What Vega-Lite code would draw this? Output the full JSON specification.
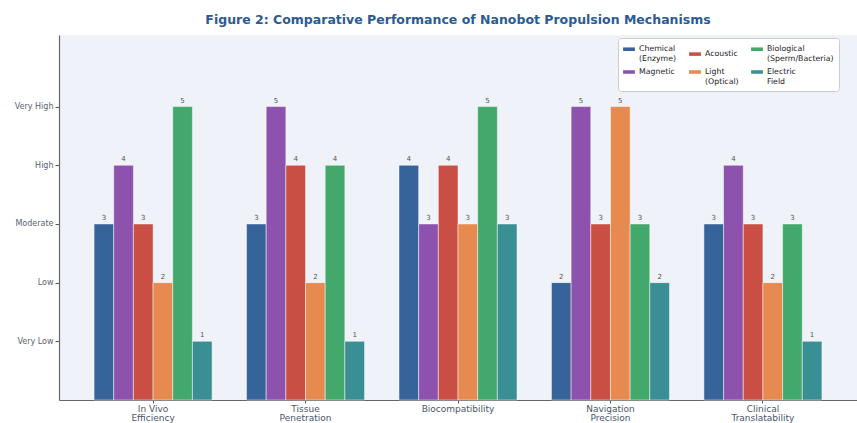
{
  "$schema": "https://vega.github.io/schema/vega-lite/v6.json",
  "width": 798,
  "height": 365,
  "autosize": {"type": "none"},
  "padding": {"left": 59, "top": 35, "right": 0, "bottom": 23},
  "background": "white",
  "title": {
    "text": "Figure 2: Comparative Performance of Nanobot Propulsion Mechanisms",
    "font": "DejaVu Sans",
    "fontSize": 12.5,
    "fontWeight": "bold",
    "color": "#2b5b93",
    "anchor": "middle",
    "offset": 9
  },
  "config": {
    "font": "DejaVu Sans",
    "view": {"fill": "#eff2f8", "stroke": null}
  },
  "data": {
    "values": [
      {"metric": "In Vivo Efficiency", "mechanism": "Chemical (Enzyme)", "score": 3},
      {"metric": "In Vivo Efficiency", "mechanism": "Magnetic", "score": 4},
      {"metric": "In Vivo Efficiency", "mechanism": "Acoustic", "score": 3},
      {"metric": "In Vivo Efficiency", "mechanism": "Light (Optical)", "score": 2},
      {"metric": "In Vivo Efficiency", "mechanism": "Biological (Sperm/Bacteria)", "score": 5},
      {"metric": "In Vivo Efficiency", "mechanism": "Electric Field", "score": 1},
      {"metric": "Tissue Penetration", "mechanism": "Chemical (Enzyme)", "score": 3},
      {"metric": "Tissue Penetration", "mechanism": "Magnetic", "score": 5},
      {"metric": "Tissue Penetration", "mechanism": "Acoustic", "score": 4},
      {"metric": "Tissue Penetration", "mechanism": "Light (Optical)", "score": 2},
      {"metric": "Tissue Penetration", "mechanism": "Biological (Sperm/Bacteria)", "score": 4},
      {"metric": "Tissue Penetration", "mechanism": "Electric Field", "score": 1},
      {"metric": "Biocompatibility", "mechanism": "Chemical (Enzyme)", "score": 4},
      {"metric": "Biocompatibility", "mechanism": "Magnetic", "score": 3},
      {"metric": "Biocompatibility", "mechanism": "Acoustic", "score": 4},
      {"metric": "Biocompatibility", "mechanism": "Light (Optical)", "score": 3},
      {"metric": "Biocompatibility", "mechanism": "Biological (Sperm/Bacteria)", "score": 5},
      {"metric": "Biocompatibility", "mechanism": "Electric Field", "score": 3},
      {"metric": "Navigation Precision", "mechanism": "Chemical (Enzyme)", "score": 2},
      {"metric": "Navigation Precision", "mechanism": "Magnetic", "score": 5},
      {"metric": "Navigation Precision", "mechanism": "Acoustic", "score": 3},
      {"metric": "Navigation Precision", "mechanism": "Light (Optical)", "score": 5},
      {"metric": "Navigation Precision", "mechanism": "Biological (Sperm/Bacteria)", "score": 3},
      {"metric": "Navigation Precision", "mechanism": "Electric Field", "score": 2},
      {"metric": "Clinical Translatability", "mechanism": "Chemical (Enzyme)", "score": 3},
      {"metric": "Clinical Translatability", "mechanism": "Magnetic", "score": 4},
      {"metric": "Clinical Translatability", "mechanism": "Acoustic", "score": 3},
      {"metric": "Clinical Translatability", "mechanism": "Light (Optical)", "score": 2},
      {"metric": "Clinical Translatability", "mechanism": "Biological (Sperm/Bacteria)", "score": 3},
      {"metric": "Clinical Translatability", "mechanism": "Electric Field", "score": 1}
    ]
  },
  "encoding": {
    "x": {
      "field": "metric",
      "type": "nominal",
      "sort": ["In Vivo Efficiency", "Tissue Penetration", "Biocompatibility", "Navigation Precision", "Clinical Translatability"],
      "scale": {"paddingInner": 0.226, "paddingOuter": 0.23},
      "axis": {
        "title": null,
        "labelAngle": 0,
        "labelExpr": "datum.label == 'In Vivo Efficiency' ? ['In Vivo', 'Efficiency'] : split(datum.label, ' ')",
        "labelFontSize": 9,
        "labelColor": "#4a5568",
        "labelLineHeight": 9.5,
        "labelPadding": 1,
        "tickColor": "#555",
        "tickSize": 3,
        "domainColor": "#666",
        "domainWidth": 1.2
      }
    },
    "xOffset": {
      "field": "mechanism",
      "type": "nominal",
      "sort": ["Chemical (Enzyme)", "Magnetic", "Acoustic", "Light (Optical)", "Biological (Sperm/Bacteria)", "Electric Field"],
      "scale": {"paddingInner": 0, "paddingOuter": 0}
    },
    "y": {
      "field": "score",
      "type": "quantitative",
      "scale": {"domain": [0, 6.22], "nice": false},
      "axis": {
        "title": null,
        "values": [1, 2, 3, 4, 5],
        "labelExpr": "['', 'Very Low', 'Low', 'Moderate', 'High', 'Very High'][datum.value]",
        "labelFontSize": 8,
        "labelColor": "#5a6372",
        "tickColor": "#555",
        "tickSize": 4,
        "domainColor": "#666",
        "domainWidth": 1.2,
        "grid": false
      }
    }
  },
  "layer": [
    {
      "mark": {"type": "bar", "stroke": "#ffffff", "strokeOpacity": 0.6, "strokeWidth": 0.8},
      "encoding": {
        "color": {
          "field": "mechanism",
          "type": "nominal",
          "scale": {
            "domain": ["Chemical (Enzyme)", "Magnetic", "Acoustic", "Light (Optical)", "Biological (Sperm/Bacteria)", "Electric Field"],
            "range": ["#35639a", "#8c52ae", "#c94f45", "#e68a4f", "#43a86b", "#3a8f95"]
          },
          "legend": {
            "title": null,
            "orient": "none",
            "legendX": 559,
            "legendY": 3,
            "columns": 3,
            "columnPadding": 12,
            "rowPadding": 3,
            "labelExpr": "split(datum.label, ' ')",
            "labelFontSize": 7.8,
            "labelColor": "#222",
            "labelLineHeight": 9,
            "symbolType": "M-1,-0.3H1V0.3H-1Z",
            "symbolSize": 140,
            "symbolStrokeWidth": 0,
            "fillColor": "#ffffff",
            "strokeColor": "#cccccc",
            "padding": 5,
            "cornerRadius": 3
          }
        }
      }
    },
    {
      "mark": {"type": "text", "dy": -6, "fontSize": 7, "color": "#555"},
      "encoding": {
        "text": {"field": "score", "type": "quantitative"}
      }
    }
  ]
}
